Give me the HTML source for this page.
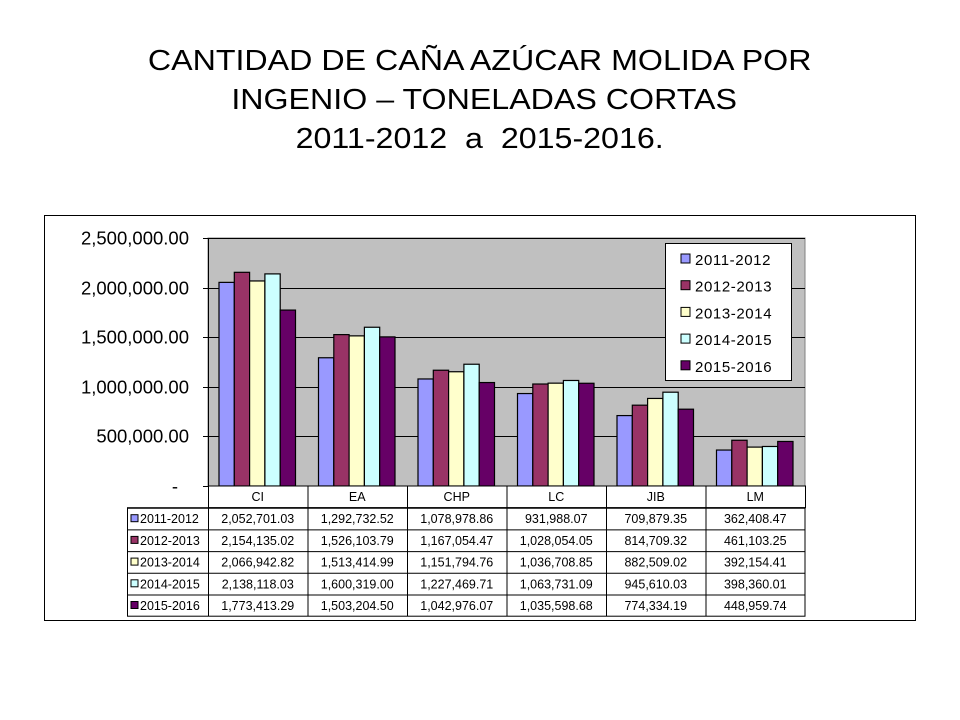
<!DOCTYPE html>
<html><head><meta charset="utf-8"><style>
body{margin:0;width:960px;height:720px;background:#fff;font-family:"Liberation Sans",Arial,sans-serif;overflow:hidden}
.title{position:absolute;left:0;width:960px;text-align:center;font-size:29px;line-height:39px;top:42px;transform:scaleX(1.11);transform-origin:483px 0}
</style></head><body>
<div class="title">CANTIDAD DE CAÑA AZÚCAR MOLIDA POR<br>&nbsp;INGENIO – TONELADAS CORTAS<br>2011-2012&nbsp; a&nbsp; 2015-2016.</div>
<svg id="c" width="960" height="720" style="position:absolute;left:0;top:0" font-family="Liberation Sans, Arial, sans-serif"></svg>
<script>
const categories=["CI","EA","CHP","LC","JIB","LM"];
const seriesNames=["2011-2012","2012-2013","2013-2014","2014-2015","2015-2016"];
const s2011=[2052701.03,1292732.52,1078978.86,931988.07,709879.35,362408.47];
const s2012=[2154135.02,1526103.79,1167054.47,1028054.05,814709.32,461103.25];
const s2013=[2066942.82,1513414.99,1151794.76,1036708.85,882509.02,392154.41];
const s2014=[2138118.03,1600319.00,1227469.71,1063731.09,945610.03,398360.01];
const s2015=[1773413.29,1503204.50,1042976.07,1035598.68,774334.19,448959.74];
const yTicks=[0,500000,1000000,1500000,2000000,2500000];
const tickLabels=["-","500,000.00","1,000,000.00","1,500,000.00","2,000,000.00","2,500,000.00"];
const series=[s2011,s2012,s2013,s2014,s2015];
const colors=["#9999FF","#993366","#FFFFCC","#CCFFFF","#660066"];
const NS="http://www.w3.org/2000/svg";
const svg=document.getElementById('c');
function el(t,a,p){const e=document.createElementNS(NS,t);for(const k in a)e.setAttribute(k,a[k]);(p||svg).appendChild(e);return e;}
const X0=208,X1=805,Y0=486,Y1=238,YMAX=2500000;
const gw=(X1-X0)/categories.length;
function y(v){return Y0-(v/YMAX)*(Y0-Y1);}
function fmt(v){return v.toLocaleString('en-US',{minimumFractionDigits:2,maximumFractionDigits:2});}
let e=el('rect',{x:44.5,y:215.5,width:871,height:405,fill:'#fff',stroke:'#000'});


e=el('rect',{x:X0,y:Y1,width:X1-X0,height:Y0-Y1,fill:'#C0C0C0',stroke:'#808080'});


yTicks.forEach((t,i)=>{
  const yy=Math.round(y(t))+0.5;
  if(t>0){const g=el('line',{x1:X0,x2:X1,y1:yy,y2:yy,stroke:'#000'});
  
  }
  const tk=el('line',{x1:X0-5,x2:X0,y1:yy,y2:yy,stroke:'#000'});
  
  
  const tx=el('text',{x:t===0?178:189,y:yy+6,'text-anchor':'end','font-size':18.5});
  tx.textContent=tickLabels[i];
  
  
});
el('line',{x1:X0+0.5,x2:X0+0.5,y1:Y1,y2:Y0,stroke:'#000'});
const bw=15.3,pad=11;
categories.forEach((c,ci)=>{
  series.forEach((s,si)=>{
    const x=X0+ci*gw+pad+si*bw, top=y(s[ci]);
    const b=el('rect',{x:x,y:top,width:bw,height:Y0-top,fill:colors[si],stroke:'#000','stroke-width':1.2});
    
    
  });
});
const rowH=21.7;
const T=el('g',{});


el('rect',{x:X0+0.5,y:Y0,width:X1-X0,height:rowH,fill:'#fff',stroke:'#000'},T);
el('rect',{x:127.5,y:Y0+rowH,width:X1-127.5,height:rowH*5,fill:'#fff',stroke:'#000'},T);
categories.forEach((c,ci)=>{
  const cx=X0+ci*gw;
  el('line',{x1:cx+0.5,x2:cx+0.5,y1:Y0,y2:Y0+rowH*6,stroke:'#000'},T);
  const t=el('text',{x:cx+gw/2,y:Y0+15,'text-anchor':'middle','font-size':12.5},T);
  t.textContent=c;
  
  
});
series.forEach((s,si)=>{
  const ry=Y0+rowH*(si+1);
  el('line',{x1:127.5,x2:X1,y1:ry+0.5,y2:ry+0.5,stroke:'#000'},T);
  el('rect',{x:131,y:ry+7,width:7,height:7,fill:colors[si],stroke:'#000'},T);
  const l=el('text',{x:140,y:ry+15.5,'font-size':12.5},T);
  l.textContent=seriesNames[si];
  
  
  s.forEach((v,ci)=>{
    const t=el('text',{x:X0+ci*gw+gw/2,y:ry+15.5,'text-anchor':'middle','font-size':12.5},T);
    t.textContent=fmt(v);
    
    
  });
});
const L=el('g',{});


el('rect',{x:665.5,y:243.5,width:126,height:137,fill:'#fff',stroke:'#000'},L);
seriesNames.forEach((n,i)=>{
  const ly=259+i*26.7;
  el('rect',{x:681,y:ly-5,width:9,height:9,fill:colors[i],stroke:'#000'},L);
  const t=el('text',{x:695,y:ly+6,'font-size':15,'letter-spacing':'0.6'},L);
  t.textContent=n;
  
  
});
</script>
</body></html>
